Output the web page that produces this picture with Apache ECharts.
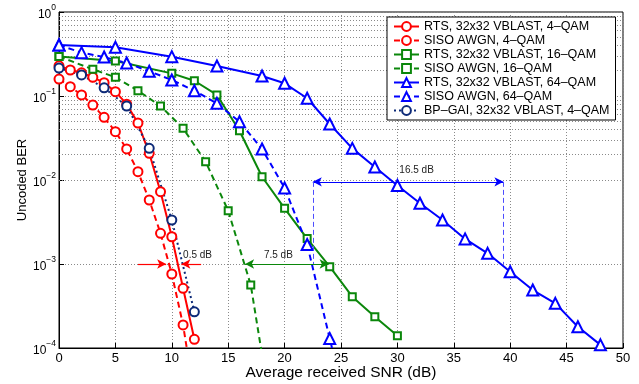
<!DOCTYPE html>
<html>
<head>
<meta charset="utf-8">
<script src="https://cdn.jsdelivr.net/npm/echarts@6/dist/echarts.min.js"></script>
<style>
html,body{margin:0;padding:0;background:#fff;}
#chart{width:639px;height:384px;}
</style>
</head>
<body>
<div id="chart"></div>
<script>
// ---------- data ----------
const xTicks = [0, 5, 10, 15, 20, 25, 30, 35, 40, 45, 50];
const yDecades = [1e-4, 1e-3, 1e-2, 1e-1, 1];

const names = [
  'RTS, 32x32 VBLAST, 4–QAM',
  'SISO AWGN, 4–QAM',
  'RTS, 32x32 VBLAST, 16–QAM',
  'SISO AWGN, 16–QAM',
  'RTS, 32x32 VBLAST, 64–QAM',
  'SISO AWGN, 64–QAM',
  'BP–GAI, 32x32 VBLAST, 4–QAM'
];

const rts4X = [0, 1, 2, 3, 4, 5, 6, 7, 8, 9, 10, 11, 12];
const rts4Y = [0.229, 0.204, 0.189, 0.167, 0.144, 0.1125, 0.080, 0.0477, 0.0208, 0.00726, 0.00211, 0.000514, 0.000127];

const siso4X = [0, 1, 2, 3, 4, 5, 6, 7, 8, 9, 10, 11, 12];
const siso4Y = [0.159, 0.129, 0.103, 0.078, 0.0557, 0.0376, 0.0234, 0.01256, 0.00578, 0.00232, 0.00076, 0.000188, 0.000027];

const rts16X = [0, 5, 10, 12, 14, 16, 18, 20, 22, 24, 26, 28, 30];
const rts16Y = [0.295, 0.261, 0.186, 0.152, 0.103, 0.0386, 0.01094, 0.0046, 0.00201, 0.00093, 0.000408, 0.000236, 0.00014];

const siso16X = [0, 3, 5, 7, 9, 11, 13, 15, 17, 18];
const siso16Y = [0.295, 0.208, 0.167, 0.1157, 0.076, 0.0412, 0.0165, 0.00431, 0.000562, 0.000083];

const rts64X = [0, 5, 10, 14, 18, 20, 22, 24, 26, 28, 30, 32, 34, 36, 38, 40, 42, 44, 46, 48];
const rts64Y = [0.405, 0.380, 0.294, 0.228, 0.173, 0.1416, 0.094, 0.0464, 0.0238, 0.01428, 0.0086, 0.00528, 0.00334, 0.00199, 0.00134, 0.00081, 0.00049, 0.00034, 0.000179, 0.000109];

const siso64X = [0, 2, 4, 6, 8, 10, 12, 14, 16, 18, 20, 22, 24, 25];
const siso64Y = [0.405, 0.328, 0.291, 0.247, 0.197, 0.155, 0.1157, 0.0818, 0.0494, 0.0234, 0.00803, 0.00171, 0.000130, 0.000036];

const bpX = [0, 2, 4, 6, 8, 10, 12];
const bpY = [0.215, 0.178, 0.125, 0.076, 0.0238, 0.00334, 0.00027];

// annotations (data units)
const gap4 = { leftFrom: 7.0, leftTo: 9.5, rightFrom: 12.6, rightTo: 10.85, ber: 1e-3, text: '0.5 dB', tx: 11.0, ty: 1.27e-3 };
const gap16 = { from: 16.5, to: 23.9, ber: 1e-3, text: '7.5 dB', tx: 19.45, ty: 1.27e-3 };
const gap64 = { from: 22.5, to: 39.4, ber: 0.0095, low: 1e-3, text: '16.5 dB', tx: 31.7, ty: 0.0129 };

// ---------- chart ----------
const pair = (xs, ys) => xs.map((x, i) => [x, ys[i]]);
const chart = echarts.init(document.getElementById('chart'), null, { renderer: 'canvas' });

const RED = '#ff0000', GREEN = '#0b870b', BLUE = '#0000ff', NAVY = '#0d2a78';
const FONT = 'Liberation Sans, Arial, Helvetica, sans-serif';

// minor log grid lines (2..9 x decade)
const minorLines = [];
for (let d = 0; d < yDecades.length - 1; d++) {
  for (let k = 2; k <= 9; k++) minorLines.push({ yAxis: yDecades[d] * k });
}

function series(name, xs, ys, color, dash, symbol, size, extra) {
  return Object.assign({
    name: name,
    type: 'line',
    data: pair(xs, ys),
    clip: true,
    symbol: symbol,
    symbolSize: size,
    showAllSymbol: true,
    lineStyle: { color: color, width: 2, type: dash },
    itemStyle: { color: color, borderColor: color, borderWidth: 1.6 },
    emphasis: { disabled: true },
    z: 3
  }, extra || {});
}

const arrowLine = (color, w) => ({ color: color, width: w, type: 'solid' });

const option = {
  animation: false,
  backgroundColor: '#ffffff',
  textStyle: { fontFamily: FONT },
  grid: { left: 59, top: 12, width: 564, height: 336, show: true, borderColor: '#000', borderWidth: 1, backgroundColor: 'transparent', containLabel: false, outerBoundsMode: 'none' },
  legend: {
    data: names,
    orient: 'vertical',
    left: 387,
    top: 17,
    padding: [3, 6, 3, 6],
    itemGap: 1,
    itemWidth: 25,
    itemHeight: 11,
    align: 'left',
    backgroundColor: '#fff',
    borderColor: '#000',
    borderWidth: 1,
    borderRadius: 0,
    textStyle: { fontFamily: FONT, fontSize: 12.5, color: '#000', lineHeight: 13 },
    selectedMode: false,
    z: 10
  },
  xAxis: {
    type: 'value',
    min: xTicks[0],
    max: xTicks[xTicks.length - 1],
    interval: xTicks[1] - xTicks[0],
    name: 'Average received SNR (dB)',
    nameLocation: 'middle',
    nameGap: 17,
    nameMoveOverlap: false,
    nameTextStyle: { fontFamily: FONT, fontSize: 15.5, color: '#000' },
    axisLine: { lineStyle: { color: '#000', width: 1 } },
    axisTick: { inside: true, length: 5, lineStyle: { color: '#000' } },
    axisLabel: { fontFamily: FONT, fontSize: 13, color: '#000', margin: 4 },
    splitLine: { show: true, lineStyle: { color: '#8a8a8a', type: [1, 2], width: 1 } }
  },
  yAxis: {
    type: 'log',
    logBase: 10,
    min: yDecades[0],
    max: yDecades[yDecades.length - 1],
    name: 'Uncoded BER',
    nameLocation: 'middle',
    nameGap: 30,
    nameMoveOverlap: false,
    nameTextStyle: { fontFamily: FONT, fontSize: 13, color: '#000' },
    axisLine: { lineStyle: { color: '#000', width: 1 } },
    axisTick: { inside: true, length: 5, lineStyle: { color: '#000' } },
    axisLabel: {
      margin: 3,
      formatter: function (v) {
        const e = Math.round(Math.log10(v));
        return '{b|10}{s|' + (e < 0 ? '−' + (-e) : String(e)) + '}';
      },
      rich: {
        b: { fontFamily: FONT, fontSize: 12, color: '#000', lineHeight: 18, verticalAlign: 'bottom' },
        s: { fontFamily: FONT, fontSize: 8.5, color: '#000', lineHeight: 18, verticalAlign: 'top' }
      }
    },
    splitLine: { show: true, lineStyle: { color: '#8a8a8a', type: [1, 2], width: 1 } }
  },
  series: [
    series(names[0], rts4X, rts4Y, RED, 'solid', 'emptyCircle', 9, {
      markLine: {
        silent: true,
        symbol: 'none',
        label: { show: false },
        lineStyle: { color: '#8a8a8a', type: [1, 2], width: 1 },
        data: minorLines,
        z: 1
      }
    }),
    series(names[1], siso4X, siso4Y, RED, [6, 4], 'emptyCircle', 9, {
      markLine: {
        silent: true,
        symbol: ['none', 'arrow'],
        symbolSize: [7, 9],
        label: { show: false },
        lineStyle: arrowLine(RED, 1.2),
        data: [
          [{ coord: [gap4.leftFrom, gap4.ber] }, { coord: [gap4.leftTo, gap4.ber] }],
          [{ coord: [gap4.rightFrom, gap4.ber] }, { coord: [gap4.rightTo, gap4.ber] }]
        ]
      },
      markPoint: {
        silent: true,
        symbol: 'rect',
        symbolSize: 1,
        itemStyle: { color: 'rgba(0,0,0,0)', borderWidth: 0 },
        label: { show: true, position: 'inside', align: 'left', formatter: gap4.text, fontFamily: FONT, fontSize: 10, color: '#222' },
        data: [{ coord: [gap4.tx, gap4.ty] }]
      }
    }),
    series(names[2], rts16X, rts16Y, GREEN, 'solid', 'emptyRect', 7),
    series(names[3], siso16X, siso16Y, GREEN, [6, 4], 'emptyRect', 7, {
      markLine: {
        silent: true,
        symbol: ['arrow', 'arrow'],
        symbolSize: [7, 9],
        label: { show: false },
        lineStyle: arrowLine(GREEN, 1.2),
        data: [[{ coord: [gap16.from, gap16.ber] }, { coord: [gap16.to, gap16.ber] }]]
      },
      markPoint: {
        silent: true,
        symbol: 'rect',
        symbolSize: 1,
        itemStyle: { color: 'rgba(0,0,0,0)', borderWidth: 0 },
        label: { show: true, position: 'inside', formatter: gap16.text, fontFamily: FONT, fontSize: 10, color: '#222' },
        data: [{ coord: [gap16.tx, gap16.ty] }]
      }
    }),
    series(names[4], rts64X, rts64Y, BLUE, 'solid', 'emptyTriangle', 11, {
      markLine: {
        silent: true,
        symbol: ['arrow', 'arrow'],
        symbolSize: [7, 9],
        label: { show: false },
        lineStyle: arrowLine(BLUE, 1.2),
        data: [[{ coord: [gap64.from, gap64.ber] }, { coord: [gap64.to, gap64.ber] }]]
      },
      markPoint: {
        silent: true,
        symbol: 'rect',
        symbolSize: 1,
        itemStyle: { color: 'rgba(0,0,0,0)', borderWidth: 0 },
        label: { show: true, position: 'inside', formatter: gap64.text, fontFamily: FONT, fontSize: 10, color: '#222' },
        data: [{ coord: [gap64.tx, gap64.ty] }]
      }
    }),
    series(names[5], siso64X, siso64Y, BLUE, [6, 4], 'emptyTriangle', 11, {
      markLine: {
        silent: true,
        symbol: 'none',
        label: { show: false },
        lineStyle: { color: '#4d4dff', width: 1, type: [5, 3] },
        data: [
          [{ coord: [gap64.from, gap64.ber] }, { coord: [gap64.from, gap64.low] }],
          [{ coord: [gap64.to, gap64.ber] }, { coord: [gap64.to, gap64.low] }]
        ]
      }
    }),
    series(names[6], bpX, bpY, NAVY, [2, 3], 'emptyCircle', 9)
  ]
};
chart.setOption(option);
</script>
</body>
</html>
